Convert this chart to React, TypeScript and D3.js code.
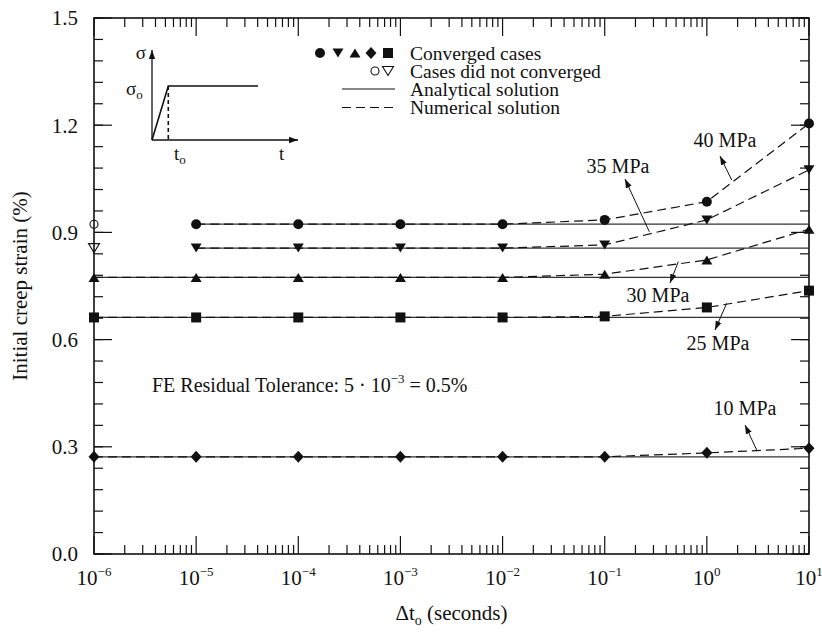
import React from "react";
import * as d3 from "d3";

// ---------- data ----------
const dtValues = [1e-6, 1e-5, 1e-4, 1e-3, 1e-2, 1e-1, 1, 10];
const decadeExps = [-6, -5, -4, -3, -2, -1, 0, 1];
const decadeLabels = ["\u22126", "\u22125", "\u22124", "\u22123", "\u22122", "\u22121", "0", "1"];
const yMajorTicks = [0, 0.3, 0.6, 0.9, 1.2, 1.5];
const yTickLabels = ["0.0", "0.3", "0.6", "0.9", "1.2", "1.5"];

const series40 = [null, 0.923, 0.923, 0.923, 0.923, 0.935, 0.986, 1.205];
const series35 = [null, 0.856, 0.856, 0.856, 0.856, 0.865, 0.935, 1.075];
const series30 = [0.774, 0.774, 0.774, 0.774, 0.774, 0.783, 0.823, 0.909];
const series25 = [0.662, 0.662, 0.662, 0.662, 0.662, 0.665, 0.69, 0.737];
const series10 = [0.272, 0.272, 0.272, 0.272, 0.272, 0.272, 0.283, 0.296];

const analytical = [
  { value: 0.923, from: 1e-5 },
  { value: 0.856, from: 1e-5 },
  { value: 0.774, from: 1e-6 },
  { value: 0.662, from: 1e-6 },
  { value: 0.272, from: 1e-6 },
];

const notConverged = [
  { dt: 1e-6, value: 0.923, shape: "circle" },
  { dt: 1e-6, value: 0.856, shape: "triDown" },
];

const seriesList = [
  { name: "40 MPa", values: series40, shape: "circle" },
  { name: "35 MPa", values: series35, shape: "triDown" },
  { name: "30 MPa", values: series30, shape: "triUp" },
  { name: "25 MPa", values: series25, shape: "square" },
  { name: "10 MPa", values: series10, shape: "diamond" },
];

const legendItems = ["Converged cases", "Cases did not converged", "Analytical solution", "Numerical solution"];

// annotation layout (pixels): label center/baseline, arrow start -> tip
const annotations = [
  { text: "40 MPa", tx: 725, ty: 147, x1: 731.7, y1: 180, x2: 720, y2: 156 },
  { text: "35 MPa", tx: 618, ty: 173, x1: 649.3, y1: 231.7, x2: 625, y2: 179 },
  { text: "30 MPa", tx: 658, ty: 302, x1: 678.3, y1: 261.7, x2: 670, y2: 283 },
  { text: "25 MPa", tx: 718, ty: 350, x1: 726.7, y1: 303.3, x2: 715, y2: 330 },
  { text: "10 MPa", tx: 745, ty: 415, x1: 756.7, y1: 450, x2: 745, y2: 425 },
];

// ---------- layout ----------
const W = 822;
const H = 633;
const L = 94, R = 809, T = 18, B = 554;
const FONT = "Liberation Serif";

const x = d3.scaleLog().domain([1e-6, 10]).range([L, R]);
const y = d3.scaleLinear().domain([0, 1.5]).range([B, T]);

function markerPath(shape: string, s = 1): string {
  switch (shape) {
    case "circle": {
      const r = 5 * s;
      return `M${-r},0a${r},${r} 0 1,0 ${2 * r},0a${r},${r} 0 1,0 ${-2 * r},0Z`;
    }
    case "triDown": {
      const w = 5.5 * s, h = 9 * s;
      return `M${-w},${-h / 2}L${w},${-h / 2}L0,${h / 2}Z`;
    }
    case "triUp": {
      const w = 5.5 * s, h = 9 * s;
      return `M${-w},${h / 2}L${w},${h / 2}L0,${-h / 2}Z`;
    }
    case "square": {
      const a = 5 * s;
      return `M${-a},${-a}H${a}V${a}H${-a}Z`;
    }
    case "diamond": {
      const a = 5.5 * s, b = 6 * s;
      return `M0,${-b}L${a},0L0,${b}L${-a},0Z`;
    }
  }
  return "";
}

export default function App() {
  const line = d3
    .line<[number, number]>()
    .x((d) => x(d[0]))
    .y((d) => y(d[1]));

  const xMinor: number[] = [];
  for (let e = -6; e < 1; e++) {
    for (let k = 2; k <= 9; k++) xMinor.push(k * Math.pow(10, e));
  }
  const yMinor: number[] = [];
  for (let i = 0; i <= 25; i++) yMinor.push(+(i * 0.06).toFixed(2));

  const majLen = 18, minLen = 9;

  const ox = 152, oy = 140;
  const ramp = { x: 168.3, y: 86 };

  const txt = { fontFamily: FONT, fill: "#111" } as React.CSSProperties;

  return (
    <svg
      width={W}
      height={H}
      style={{ position: "absolute", left: 0, top: 0, background: "#fff", fontFamily: FONT }}
    >
      <defs>
        <marker id="ah" viewBox="0 0 10 10" refX="10" refY="5" markerWidth="9" markerHeight="9" markerUnits="userSpaceOnUse" orient="auto">
          <path d="M0,1.5L10,5L0,8.5Z" fill="#111" />
        </marker>
      </defs>
      <rect x={0} y={0} width={W} height={H} fill="#fff" />

      {/* ticks */}
      <g stroke="#111" strokeWidth={1.2}>
        {xMinor.map((v, i) => (
          <g key={"xm" + i}>
            <line x1={x(v)} x2={x(v)} y1={B} y2={B - minLen} />
            <line x1={x(v)} x2={x(v)} y1={T} y2={T + minLen} />
          </g>
        ))}
        {decadeExps.map((e, i) => (
          <g key={"xM" + i}>
            <line x1={x(Math.pow(10, e))} x2={x(Math.pow(10, e))} y1={B} y2={B - majLen} />
            <line x1={x(Math.pow(10, e))} x2={x(Math.pow(10, e))} y1={T} y2={T + majLen} />
          </g>
        ))}
        {yMinor.map((v, i) => (
          <g key={"ym" + i}>
            <line x1={L} x2={L + minLen} y1={y(v)} y2={y(v)} />
            <line x1={R} x2={R - minLen} y1={y(v)} y2={y(v)} />
          </g>
        ))}
        {yMajorTicks.map((v, i) => (
          <g key={"yM" + i}>
            <line x1={L} x2={L + majLen} y1={y(v)} y2={y(v)} />
            <line x1={R} x2={R - majLen} y1={y(v)} y2={y(v)} />
          </g>
        ))}
      </g>

      {/* analytical solutions */}
      <g stroke="#333" strokeWidth={1.2}>
        {analytical.map((a, i) => (
          <line key={"an" + i} x1={x(a.from)} x2={R} y1={y(a.value)} y2={y(a.value)} />
        ))}
      </g>

      {/* numerical solutions */}
      <g fill="none" stroke="#111" strokeWidth={1.2} strokeDasharray="9,5">
        {seriesList.map((s, i) => {
          const pts: [number, number][] = [];
          s.values.forEach((v, j) => {
            if (v !== null) pts.push([dtValues[j], v as number]);
          });
          return <path key={"num" + i} d={line(pts) || ""} />;
        })}
      </g>

      {/* markers */}
      <g fill="#111">
        {seriesList.map((s, i) =>
          s.values.map((v, j) =>
            v === null ? null : (
              <path key={`m${i}-${j}`} d={markerPath(s.shape)} transform={`translate(${x(dtValues[j])},${y(v as number)})`} />
            )
          )
        )}
      </g>
      <g fill="#fff" stroke="#111" strokeWidth={1.1}>
        {notConverged.map((p, i) => (
          <path key={"nc" + i} d={markerPath(p.shape, p.shape === "circle" ? 0.8 : 1)} transform={`translate(${x(p.dt)},${y(p.value)})`} />
        ))}
      </g>

      {/* frame */}
      <rect x={L} y={T} width={R - L} height={B - T} fill="none" stroke="#111" strokeWidth={1.6} />

      {/* tick labels */}
      <g style={{ ...txt, fontSize: 21 }}>
        {yMajorTicks.map((v, i) => (
          <text key={"yl" + i} x={78} y={y(v)} dy="0.35em" textAnchor="end">
            {yTickLabels[i]}
          </text>
        ))}
        {decadeExps.map((e, i) => (
          <text key={"xl" + i} x={x(Math.pow(10, e))} y={585} textAnchor="middle">
            10
            <tspan style={{ fontSize: 13 }} dy={-9}>
              {decadeLabels[i]}
            </tspan>
          </text>
        ))}
      </g>

      {/* axis titles */}
      <text x={(L + R) / 2} y={620} textAnchor="middle" style={{ ...txt, fontSize: 21 }}>
        {"\u0394t"}
        <tspan style={{ fontSize: 14 }} dy={5}>o</tspan>
        <tspan dy={-5}>{" (seconds)"}</tspan>
      </text>
      <text transform={`translate(27,${(T + B) / 2}) rotate(-90)`} textAnchor="middle" style={{ ...txt, fontSize: 21 }}>
        Initial creep strain (%)
      </text>

      {/* annotations */}
      <g style={{ ...txt, fontSize: 20 }}>
        {annotations.map((a, i) => (
          <g key={"an" + i}>
            <text x={a.tx} y={a.ty} textAnchor="middle">{a.text}</text>
            <line x1={a.x1} y1={a.y1} x2={a.x2} y2={a.y2} stroke="#111" strokeWidth={1} markerEnd="url(#ah)" />
          </g>
        ))}
      </g>

      <text x={152} y={392} style={{ ...txt, fontSize: 20 }}>
        {"FE Residual Tolerance: 5 \u00B7 10"}
        <tspan style={{ fontSize: 13 }} dy={-9}>{"\u22123"}</tspan>
        <tspan dy={9}>{" = 0.5%"}</tspan>
      </text>

      {/* legend */}
      <g fill="#111">
        {["circle", "triDown", "triUp", "diamond", "square"].map((sh, i) => (
          <path key={"lg" + i} d={markerPath(sh)} transform={`translate(${[320, 338, 355, 371, 388][i]},53)`} />
        ))}
      </g>
      <g fill="#fff" stroke="#111" strokeWidth={1.1}>
        <path d={markerPath("circle", 0.8)} transform="translate(375,71)" />
        <path d={markerPath("triDown")} transform="translate(388,71)" />
      </g>
      <line x1={342} x2={395} y1={89} y2={89} stroke="#111" strokeWidth={1.2} />
      <line x1={342} x2={395} y1={107.5} y2={107.5} stroke="#111" strokeWidth={1.2} strokeDasharray="9,5" />
      <g style={{ ...txt, fontSize: 19.5 }}>
        {legendItems.map((t, i) => (
          <text key={"lt" + i} x={410} y={59.5 + i * 18.3}>{t}</text>
        ))}
      </g>

      {/* inset */}
      <g stroke="#111" strokeWidth={1.3} fill="none">
        <line x1={ox} y1={oy} x2={ox} y2={50} markerEnd="url(#ah)" />
        <line x1={ox} y1={oy} x2={298} y2={oy} markerEnd="url(#ah)" />
        <polyline points={`${ox},${oy} ${ramp.x},${ramp.y} 258,${ramp.y}`} strokeWidth={1.6} />
        <line x1={ramp.x} y1={ramp.y} x2={ramp.x} y2={oy} strokeDasharray="4,3" strokeWidth={1.6} />
      </g>
      <g style={{ ...txt, fontSize: 19 }}>
        <text x={146} y={59} textAnchor="end">{"\u03C3"}</text>
        <text x={126} y={95}>
          {"\u03C3"}
          <tspan style={{ fontSize: 13 }} dy={4}>o</tspan>
        </text>
        <text x={174} y={160}>
          t<tspan style={{ fontSize: 13 }} dy={4}>o</tspan>
        </text>
        <text x={279} y={160}>t</text>
      </g>
    </svg>
  );
}
